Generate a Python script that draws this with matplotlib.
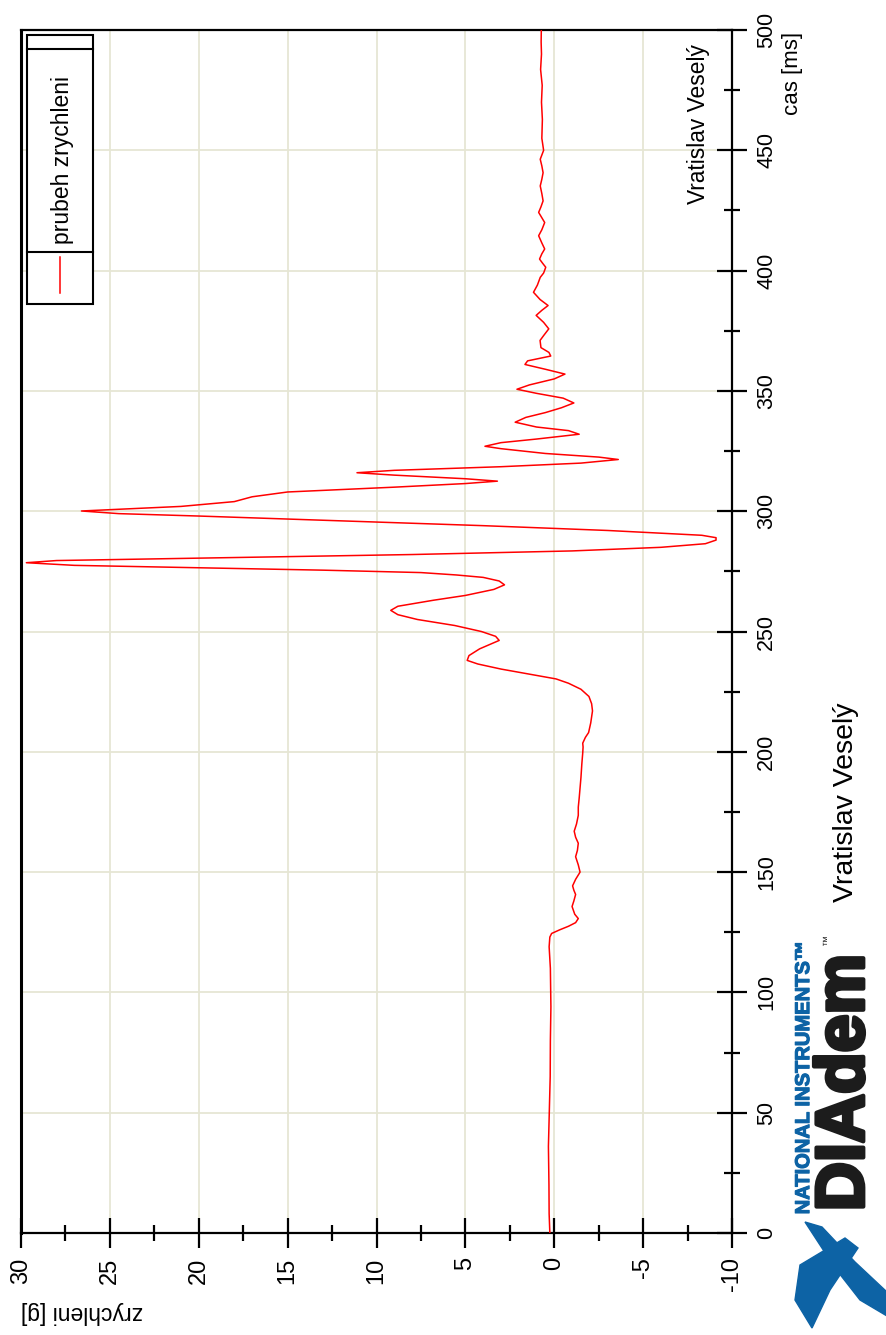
import matplotlib
matplotlib.use("Agg")
import matplotlib.pyplot as plt
import matplotlib.patheffects as pe
import numpy as np
from matplotlib.patches import Rectangle, Polygon
from matplotlib.lines import Line2D

plt.rcParams['font.family'] = ['Liberation Sans', 'DejaVu Sans']
plt.rcParams['axes.unicode_minus'] = False

# acceleration record
time_ms = [0, 8, 20, 36, 50, 65, 80, 94, 110, 119, 123, 124.5, 126, 127.5, 129,
           130.7, 132.5, 135.7, 138, 140.7, 142.5, 144.3, 147, 150, 153, 156.4,
           159, 162, 164.5, 167, 170, 173.6, 177, 180.7, 185, 189.3, 195, 199.5,
           202, 203.6, 206, 208, 212, 217, 220, 223, 226, 228.5, 230.3, 232,
           234.4, 236.5, 238, 240, 242.8, 246.3, 248, 250, 252.5, 255, 257,
           258.8, 260.5, 263, 265, 267.5, 269.4, 271, 272.5, 273.5, 274.5, 275.5,
           276.5, 277.5, 278.6, 279.5, 280.5, 282, 283.5, 285, 286.5, 288, 289,
           290, 292, 294, 296, 298, 299, 300.1, 301, 302, 303, 304, 305, 306,
           307, 308, 310, 311.5, 312.5, 313.5, 315, 316, 317, 318.5, 320, 321.5,
           322.5, 324, 326, 327, 328.5, 330, 332, 333.5, 335, 337, 339, 341,
           343, 345, 347, 349, 350.7, 352.5, 355, 357, 359, 361, 362.5, 364.5,
           366, 368, 371, 373, 375.8, 378.5, 381.4, 383.5, 385.5, 388, 391, 394,
           397.2, 399, 401.4, 403, 404.8, 407, 409, 411.5, 414.5, 417, 420, 422,
           424.2, 426.5, 429, 432, 435.2, 438, 440.7, 443.5, 446.3, 450, 455,
           462.8, 470, 477, 483.6, 490, 495, 500]
accel_g = [0.25, 0.29, 0.3, 0.33, 0.28, 0.23, 0.22, 0.19, 0.22, 0.29, 0.25, 0.15,
           -0.3, -0.8, -1.2, -1.35, -1.15, -1.0, -1.1, -1.2, -1.1, -1.03, -1.2,
           -1.45, -1.35, -1.2, -1.3, -1.35, -1.2, -1.12, -1.25, -1.35, -1.35,
           -1.4, -1.45, -1.5, -1.55, -1.6, -1.62, -1.6, -1.75, -1.93, -2.05,
           -2.15, -2.1, -1.95, -1.5, -0.8, -0.1, 1.2, 3.0, 4.3, 4.9, 4.8, 4.2,
           3.1, 3.3, 4.1, 5.6, 7.7, 8.8, 9.2, 8.8, 6.8, 5.0, 3.4, 2.8, 3.1, 4.0,
           5.5, 7.5, 13, 20, 27, 29.7, 28, 20, 8, -1, -6, -8.5, -9.1, -9.1, -8.3,
           -3, 4, 12, 20, 24.5, 26.6, 24, 21, 19.5, 18.0, 17.5, 17.0, 16.0, 15.0,
           9, 5, 3.2, 5, 9, 11.1, 9, 3, -1.5, -3.6, -2.5, 0.5, 3, 3.9, 3, 1,
           -1.4, -0.8, 1, 2.2, 1.6, 0.5, -0.4, -1.1, -0.5, 1.0, 2.1, 1.4, 0,
           -0.6, 0.5, 1.65, 1.5, 0.2, 0.3, 0.75, 0.8, 0.6, 0.31, 0.6, 1.02, 0.7,
           0.35, 0.8, 1.17, 0.95, 0.79, 0.6, 0.48, 0.65, 0.83, 0.7, 0.54, 0.7,
           0.88, 0.7, 0.54, 0.7, 0.88, 0.75, 0.63, 0.7, 0.79, 0.7, 0.63, 0.7,
           0.79, 0.6, 0.7, 0.67, 0.72, 0.68, 0.77, 0.72, 0.74, 0.73]

g_ticks = [-10, -5, 0, 5, 10, 15, 20, 25, 30]
t_ticks = [0, 50, 100, 150, 200, 250, 300, 350, 400, 450, 500]

fig = plt.figure(figsize=(8.87, 13.35), dpi=100)
ax = fig.add_axes([0.0237, 0.0764, 0.8016, 0.9011])

ax.plot(accel_g, time_ms, color='#ff0000', lw=1.1, zorder=3)
ax.set_xlim(30, -10)
ax.set_ylim(0, 500)

ax.set_xticks(g_ticks)
ax.set_xticks(np.array(g_ticks[:-1]) + 2.5, minor=True)
ax.set_yticks(t_ticks)
ax.set_yticks(np.array(t_ticks[:-1]) + 25, minor=True)
ax.yaxis.tick_right()
ax.set_xticklabels([str(v) for v in g_ticks], rotation=90, fontsize=17)
ax.set_yticklabels([str(v) for v in t_ticks], rotation=90, fontsize=15.5, va='center')
ax.tick_params(which='major', direction='inout', length=21, width=1.6, pad=7, color='black')
ax.tick_params(which='minor', direction='inout', length=12, width=1.6, color='black')

ax.grid(which='major', color='#e6e6d4', lw=1.3, zorder=0)
ax.set_axisbelow(True)
for side in ['top', 'right', 'bottom']:
    ax.spines[side].set_linewidth(1.6)
ax.spines['left'].set_linewidth(2.2)

# legend box (drawn by hand, rotated)
ax.add_patch(Rectangle((0.0084, 0.7722), 0.0929, 0.2236, transform=ax.transAxes,
                       fill=True, facecolor='white', edgecolor='black', lw=1.5, zorder=5))
ax.add_line(Line2D([0.0084, 0.1013], [0.9842, 0.9842], transform=ax.transAxes,
                   color='black', lw=1.5, zorder=6))
ax.add_line(Line2D([0.0084, 0.1013], [0.8155, 0.8155], transform=ax.transAxes,
                   color='black', lw=1.5, zorder=6))
ax.add_line(Line2D([0.0549, 0.0549], [0.7814, 0.8113], transform=ax.transAxes,
                   color='#ff0000', lw=1.1, zorder=6))
ax.text(0.0577, 0.8919, 'prubeh zrychleni', transform=ax.transAxes, rotation=90,
        ha='center', va='center', fontsize=16.5, zorder=7)

# labels around the chart
fig.text(0.894, 0.945, 'cas [ms]', rotation=90, ha='center', va='center', fontsize=16)
fig.text(0.788, 0.907, 'Vratislav Veselý', rotation=90, ha='center', va='center', fontsize=16.4)
fig.text(0.0924, 0.0165, 'zrychleni [g]', rotation=180, ha='center', va='center', fontsize=16.5)
fig.text(0.954, 0.399, 'Vratislav Veselý', rotation=90, ha='center', va='center', fontsize=20.5)

# NI DIAdem logo
fig.text(0.906, 0.193, 'NATIONAL INSTRUMENTS™', rotation=90, ha='center', va='center',
         fontsize=14.5, fontweight='bold', color='#0d63a5',
         path_effects=[pe.withStroke(linewidth=0.8, foreground='#0d63a5')])
fig.text(0.953, 0.189, 'DIAdem', rotation=90, ha='center', va='center',
         fontsize=49, fontweight='bold', color='#1c1c1c',
         path_effects=[pe.withStroke(linewidth=3, foreground='#1c1c1c')])
fig.text(0.932, 0.296, '™', rotation=90, ha='center', va='center', fontsize=8, color='#1c1c1c')


def px(pts):
    return [(x / 887, 1 - y / 1335) for x, y in pts]


fig.patches.append(Polygon(px([(805, 1222), (822, 1227), (855, 1262), (887, 1292),
                               (887, 1316), (860, 1300), (835, 1268)]),
                           closed=True, transform=fig.transFigure, color='#0d63a5'))
fig.patches.append(Polygon(px([(795, 1300), (800, 1265), (845, 1238), (858, 1248),
                               (830, 1290), (812, 1328)]),
                           closed=True, transform=fig.transFigure, color='#0d63a5'))

fig.savefig('out.png', dpi=100)
